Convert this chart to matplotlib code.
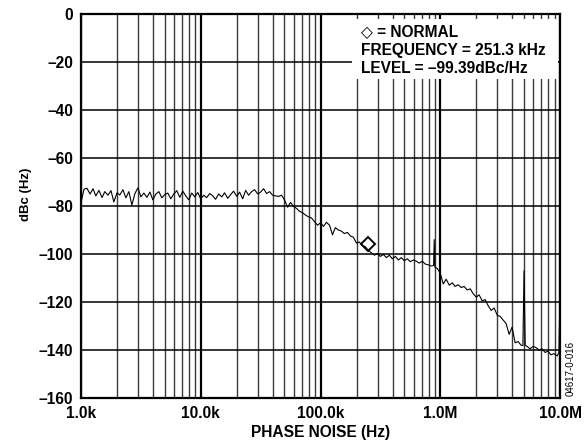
import matplotlib
matplotlib.use("Agg")
import matplotlib.pyplot as plt
from matplotlib import font_manager
from matplotlib.patches import Rectangle
from matplotlib.ticker import FixedLocator, LogLocator, NullFormatter

plt.rcParams['font.family'] = ['Liberation Sans', 'DejaVu Sans']
plt.rcParams['font.weight'] = 'bold'

_names = {f.name for f in font_manager.fontManager.ttflist}
NARROW = 'Liberation Sans Narrow' if 'Liberation Sans Narrow' in _names else None

# ---- data ----
trace_freq_khz = [
    1.00, 1.06, 1.12, 1.19, 1.26, 1.33, 1.41, 1.50, 1.58, 1.68, 1.78, 1.88, 2.00, 2.11, 2.24, 2.37,
    2.51, 2.66, 2.82, 2.99, 3.16, 3.35, 3.55, 3.76, 3.98, 4.22, 4.47, 4.73, 5.01, 5.31, 5.62, 5.96,
    6.31, 6.68, 7.08, 7.50, 7.94, 8.41, 8.91, 9.44,
    10.0, 10.6, 11.2, 11.9, 12.6, 13.3, 14.1, 15.0, 15.8, 16.8, 17.8, 18.8, 20.0, 21.1, 22.4, 23.7,
    25.1, 26.6, 28.2, 29.9, 31.6, 33.5, 35.5, 37.6, 39.8, 42.2, 44.7, 47.3, 50.1, 53.1, 56.2, 59.6,
    63.1, 66.8, 70.8, 75.0, 79.4, 84.1, 89.1, 94.4,
    100, 106, 112, 119, 126, 133, 141, 150, 158, 168, 178, 188, 200, 211, 224, 237,
    251, 266, 282, 299, 316, 335, 355, 376, 398, 422, 447, 473, 501, 531, 562, 596,
    631, 668, 708, 750, 794, 841, 880, 891, 902, 944,
    1000, 1060, 1120, 1190, 1260, 1330, 1410, 1500, 1580, 1680, 1780, 1880, 2000, 2110, 2240, 2370,
    2510, 2660, 2820, 2990, 3160, 3350, 3550, 3760, 3980, 4220, 4470, 4730, 4900, 5010, 5120, 5310,
    5620, 5960, 6310, 6680, 7080, 7500, 7940, 8410, 8910, 9440, 9800, 10000,
]
trace_dbc = [
    -78.5, -73.0, -72.6, -75.0, -72.8, -75.8, -73.5, -76.5, -74.0, -75.5, -73.6, -78.3, -74.5, -75.4, -73.2, -76.6,
    -74.0, -79.6, -74.8, -72.4, -76.2, -74.6, -76.4, -74.2, -77.4, -75.0, -74.0, -76.6, -75.2, -74.6, -77.0, -75.0,
    -73.6, -76.4, -73.8, -75.8, -77.4, -74.6, -76.2, -74.4,
    -77.0, -75.5, -76.5, -74.8, -75.8, -77.2, -75.0, -76.2, -74.5, -76.8, -75.2, -73.8, -76.0, -74.2, -77.0, -73.5,
    -75.5, -74.0, -73.2, -75.0, -74.2, -72.8, -74.8, -74.0, -75.5, -75.8, -76.0, -75.5, -77.5, -80.5, -78.5, -80.2,
    -81.0, -82.2, -82.8, -83.8, -84.5, -85.0, -86.5, -88.0,
    -87.0, -88.5, -86.8, -88.0, -92.0, -89.0, -90.0, -90.5, -91.5, -91.0, -92.5, -93.0, -95.5, -95.0, -96.5, -97.0,
    -98.5, -99.5, -100.5, -99.8, -101.0, -100.2, -101.5, -100.5, -102.0, -101.0, -102.5, -101.5, -102.8, -102.0, -103.2, -102.5,
    -103.0, -103.8, -103.0, -104.2, -104.5, -105.0, -104.8, -94.0, -105.5, -106.0,
    -108.0, -112.5, -110.5, -113.0, -112.0, -113.5, -112.8, -114.0, -113.5, -115.0, -114.5, -116.5, -118.0, -117.0, -119.5, -119.0,
    -121.5, -123.5, -122.5, -125.5, -126.0, -127.5, -129.0, -133.5, -130.5, -137.0, -136.5, -138.0, -138.2, -107.0, -138.0, -138.5,
    -139.5, -138.5, -139.0, -140.0, -139.5, -141.0, -140.5, -142.0, -141.5, -142.5, -141.0, -116.0,
]
marker_freq_khz = [251.3]
marker_dbc = [-96.0]

y_ticks = [0, -20, -40, -60, -80, -100, -120, -140, -160]
x_ticks_khz = [1, 10, 100, 1000, 10000]
x_tick_labels = ['1.0k', '10.0k', '100.0k', '1.0M', '10.0M']

FS = 11.2

# ---- figure ----
fig = plt.figure(figsize=(5.85, 4.43), dpi=100)
ax = fig.add_axes([81/585, 1-398/443, (560-81)/585, (398-14)/443])

ax.set_xscale('log')
ax.set_xlim(1, 10000)
ax.set_ylim(-160, 0)

ax.plot(trace_freq_khz, trace_dbc, color='black', lw=0.8, zorder=3)
ax.plot(marker_freq_khz, marker_dbc, linestyle='none', marker='D', markersize=6.8,
        markerfacecolor='none', markeredgecolor='black', markeredgewidth=1.4, zorder=4)

ax.xaxis.set_major_locator(FixedLocator(x_ticks_khz))
ax.set_xticklabels(x_tick_labels)
ax.xaxis.set_minor_locator(LogLocator(base=10, subs=range(2, 10)))
ax.xaxis.set_minor_formatter(NullFormatter())
ax.set_yticks(y_ticks)
ax.set_yticklabels([('\u2013' + str(-v)) if v < 0 else str(v) for v in y_ticks])

ax.grid(which='major', axis='y', color='black', lw=1.1)
ax.grid(which='major', axis='x', color='black', lw=1.6)
ax.grid(which='minor', axis='x', color='#3a3a3a', lw=1.0)
ax.set_axisbelow(True)

ax.tick_params(which='both', length=0)
ax.tick_params(axis='y', pad=5.5, labelsize=FS)
ax.tick_params(axis='x', pad=6, labelsize=FS)
for lab in ax.get_xticklabels() + ax.get_yticklabels():
    lab.set_fontweight('bold')
for s in ax.spines.values():
    s.set_linewidth(1.6)
    s.set_zorder(5)

ax.set_xlabel('PHASE NOISE (Hz)', fontsize=FS, fontweight='bold')
ax.xaxis.set_label_coords(0.5, -(433-398)/384)
ax.xaxis.label.set_va('center')
if NARROW:
    ax.set_ylabel('dBc (Hz)', fontsize=10.5, fontweight='bold', family=[NARROW, 'DejaVu Sans'])
else:
    ax.set_ylabel('dBc (Hz)', fontsize=9.5, fontweight='bold')
ax.yaxis.set_label_coords((26-81)/479, (398-194)/384)
ax.yaxis.label.set_va('center')

# annotation box
ax.add_patch(Rectangle((0.566, 0.831), 0.43, 0.156, transform=ax.transAxes,
                       facecolor='white', edgecolor='none', zorder=2.5))
ax.text(0.585, 0.955, '\u25C7 = NORMAL', transform=ax.transAxes, fontsize=FS,
        fontweight='bold', va='center', ha='left', zorder=6)
ax.text(0.585, 0.904, 'FREQUENCY = 251.3 kHz', transform=ax.transAxes, fontsize=FS,
        fontweight='bold', va='center', ha='left', zorder=6)
ax.text(0.585, 0.857, 'LEVEL = \u201399.39dBc/Hz', transform=ax.transAxes, fontsize=FS,
        fontweight='bold', va='center', ha='left', zorder=6)

fig.text(571/585, 1-396/443, '04617-0-016', rotation=90, fontsize=7, fontweight='normal',
         ha='center', va='bottom')

fig.savefig('out.png', dpi=100)
